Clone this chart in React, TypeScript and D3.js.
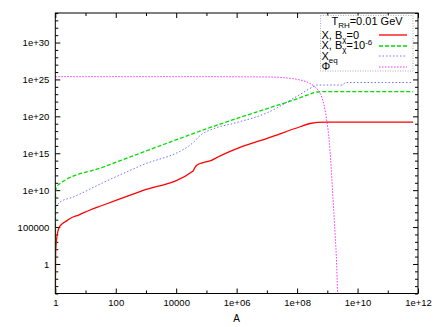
import React, { useRef, useEffect } from 'react';
import * as d3 from 'd3';

// values, as [log10 A, log10 value]
const redCurve = [
  [0.003, -4.0], [0.01, 1.21], [0.03, 2.83], [0.056, 3.72], [0.11, 4.8], [0.22, 5.41],
  [0.33, 5.72], [0.55, 6.29], [0.77, 6.63], [1.15, 7.31], [1.55, 7.92], [2.8, 9.81],
  [4.56, 12.59], [4.61, 13.0], [4.69, 13.4], [4.89, 13.74], [5.19, 14.08], [5.28, 14.28],
  [6.11, 15.8], [7.01, 17.02], [8.1, 18.59], [8.43, 19.03], [8.66, 19.19], [8.96, 19.23],
  [11.84, 19.23],
];
const greenCurve = [
  [0.003, -4.0], [0.01, 9.75], [0.04, 10.42], [0.165, 10.92], [1.55, 13.07], [3.13, 15.5],
  [4.79, 18.0], [6.11, 19.85], [7.01, 21.05], [8.1, 22.52], [8.43, 23.02], [8.66, 23.3],
  [8.92, 23.34], [11.84, 23.34],
];
const eqCurve = [
  [0.0, 7.71], [0.16, 8.39], [0.59, 9.07], [1.55, 10.96], [2.8, 13.27], [4.62, 16.66],
  [4.72, 17.13], [5.28, 18.38], [5.88, 19.03], [7.01, 20.49], [8.1, 22.98], [8.53, 24.01],
  [8.66, 24.24], [9.52, 24.24], [9.59, 24.58], [11.84, 24.58],
];
const phiCurve = [
  [0.0, 25.37], [4.79, 25.37], [7.1, 25.33], [7.67, 25.19], [8.1, 24.92], [8.43, 24.45],
  [8.63, 23.84], [8.76, 23.16], [8.89, 21.53], [8.99, 19.23], [9.06, 16.79], [9.11, 14.08],
  [9.19, 8.66], [9.26, 3.92], [9.31, -0.15], [9.34, -4.0],
];

const xMajor = [1, 1e2, 1e4, 1e6, 1e8, 1e10, 1e12];
const xTickLabels = ['1', '100', '10000', '1e+06', '1e+08', '1e+10', '1e+12'];
const xMinor = [1e1, 1e3, 1e5, 1e7, 1e9, 1e11];
const yMajor = [1, 1e5, 1e10, 1e15, 1e20, 1e25, 1e30];
const yTickLabels = ['1', '100000', '1e+10', '1e+15', '1e+20', '1e+25', '1e+30'];
const yMinorExp = [-4, -3, -2, -1, 1, 2, 3, 4, 6, 7, 8, 9, 11, 12, 13, 14, 16, 17, 18, 19,
  21, 22, 23, 24, 26, 27, 28, 29, 31, 32, 33, 34];

const series = [
  { data: redCurve, color: '#ff0000', width: 1.3, dash: null },
  { data: greenCurve, color: '#00dd00', width: 1.3, dash: '4,2' },
  { data: eqCurve, color: '#7070ff', width: 1, dash: '1.5,2' },
  { data: phiCurve, color: '#ff30ff', width: 1, dash: '1.5,1.5' },
];

const font = 'Liberation Sans, Arial, sans-serif';

const App = () => {
  const svgRef = useRef(null);

  useEffect(() => {
    const svg = d3.select(svgRef.current);
    svg.selectAll('*').remove();

    const left = 55.3, right = 418, top = 13, bottom = 293.5;
    const x = d3.scaleLog().domain([1, 1e12]).range([left, right]);
    const y = d3.scaleLog().domain([1e-4, 1e34]).range([bottom, top]);

    svg.append('defs').append('clipPath').attr('id', 'plot')
      .append('rect').attr('x', left).attr('y', top)
      .attr('width', right - left).attr('height', bottom - top);

    const tickAxis = (axis, tr, size) => {
      const g = svg.append('g').attr('transform', tr).call(axis.tickSizeInner(size).tickSizeOuter(0));
      g.select('.domain').remove();
      g.selectAll('line').attr('stroke', '#000').attr('stroke-width', 1);
      return g;
    };

    // major ticks with labels
    const bx = tickAxis(d3.axisBottom(x).tickValues(xMajor).tickFormat((d, i) => xTickLabels[i]).tickPadding(6),
      `translate(0,${bottom})`, -5);
    bx.selectAll('text').attr('font-family', font).attr('font-size', 9.5).attr('fill', '#000');
    tickAxis(d3.axisTop(x).tickValues(xMajor).tickFormat(() => ''), `translate(0,${top})`, -5);
    tickAxis(d3.axisBottom(x).tickValues(xMinor).tickFormat(() => ''), `translate(0,${bottom})`, -3);
    tickAxis(d3.axisTop(x).tickValues(xMinor).tickFormat(() => ''), `translate(0,${top})`, -3);

    const ly = tickAxis(d3.axisLeft(y).tickValues(yMajor).tickFormat((d, i) => yTickLabels[i]).tickPadding(6),
      `translate(${left},0)`, -5);
    ly.selectAll('text').attr('font-family', font).attr('font-size', 9.5).attr('fill', '#000');
    tickAxis(d3.axisRight(y).tickValues(yMajor).tickFormat(() => ''), `translate(${right},0)`, -5);
    const yMinor = yMinorExp.map((e) => Math.pow(10, e));
    tickAxis(d3.axisLeft(y).tickValues(yMinor).tickFormat(() => ''), `translate(${left},0)`, -3);
    tickAxis(d3.axisRight(y).tickValues(yMinor).tickFormat(() => ''), `translate(${right},0)`, -3);

    svg.append('text').attr('x', (left + right) / 2).attr('y', 322)
      .attr('text-anchor', 'middle').attr('font-family', font).attr('font-size', 10)
      .text('A');

    const line = d3.line()
      .x((d) => x(Math.pow(10, d[0])))
      .y((d) => y(Math.pow(10, d[1])))
      .curve(d3.curveMonotoneX);

    const plot = svg.append('g').attr('clip-path', 'url(#plot)');
    series.forEach((s) => {
      plot.append('path')
        .attr('d', line(s.data))
        .attr('fill', 'none')
        .attr('stroke', s.color)
        .attr('stroke-width', s.width)
        .attr('stroke-dasharray', s.dash);
    });

    // frame
    svg.append('rect').attr('x', left).attr('y', top)
      .attr('width', right - left).attr('height', bottom - top)
      .attr('fill', 'none').attr('stroke', '#000').attr('stroke-width', 1);

    // key
    const key = svg.append('g').attr('font-family', font).attr('font-size', 11);
    key.append('rect').attr('x', 320.5).attr('y', 15.5).attr('width', 92.5).attr('height', 55.5)
      .attr('fill', 'white').attr('stroke', '#999').attr('stroke-width', 0.8).attr('stroke-dasharray', '1,1.5');

    const title = key.append('text').attr('x', 367).attr('y', 25).attr('text-anchor', 'middle');
    title.append('tspan').text('T');
    title.append('tspan').attr('dy', 3).attr('font-size', 8).text('RH');
    title.append('tspan').attr('dy', -3).text('=0.01 GeV');

    const rows = [0, 1, 2, 3];
    const rowY = (i) => 35 + i * 10.5;
    const t0 = key.append('text').attr('x', 321.5).attr('y', rowY(0) + 3.5);
    t0.append('tspan').text('X, B');
    t0.append('tspan').attr('dy', 3).attr('font-size', 8).text('χ');
    t0.append('tspan').attr('dy', -3).text('=0');
    const t1 = key.append('text').attr('x', 321.5).attr('y', rowY(1) + 3.5);
    t1.append('tspan').text('X, B');
    t1.append('tspan').attr('dy', 3).attr('font-size', 8).text('χ');
    t1.append('tspan').attr('dy', -3).text('=10');
    t1.append('tspan').attr('dy', -4).attr('font-size', 8).text('-6');
    const t2 = key.append('text').attr('x', 321.5).attr('y', rowY(2) + 3.5);
    t2.append('tspan').text('X');
    t2.append('tspan').attr('dy', 3).attr('font-size', 8).text('eq');
    key.append('text').attr('x', 321.5).attr('y', rowY(3) + 3.5).text('Φ');

    rows.forEach((i) => {
      const s = series[i];
      const ry = Math.round(rowY(i));
      key.append('line').attr('x1', 379).attr('x2', 407).attr('y1', ry).attr('y2', ry)
        .attr('stroke', s.color).attr('stroke-width', s.width).attr('stroke-dasharray', s.dash);
    });
  }, []);

  return (
    <svg ref={svgRef} width={436} height={327} style={{ position: 'absolute', left: 0, top: 0, background: '#fff' }} />
  );
};

export default App;
